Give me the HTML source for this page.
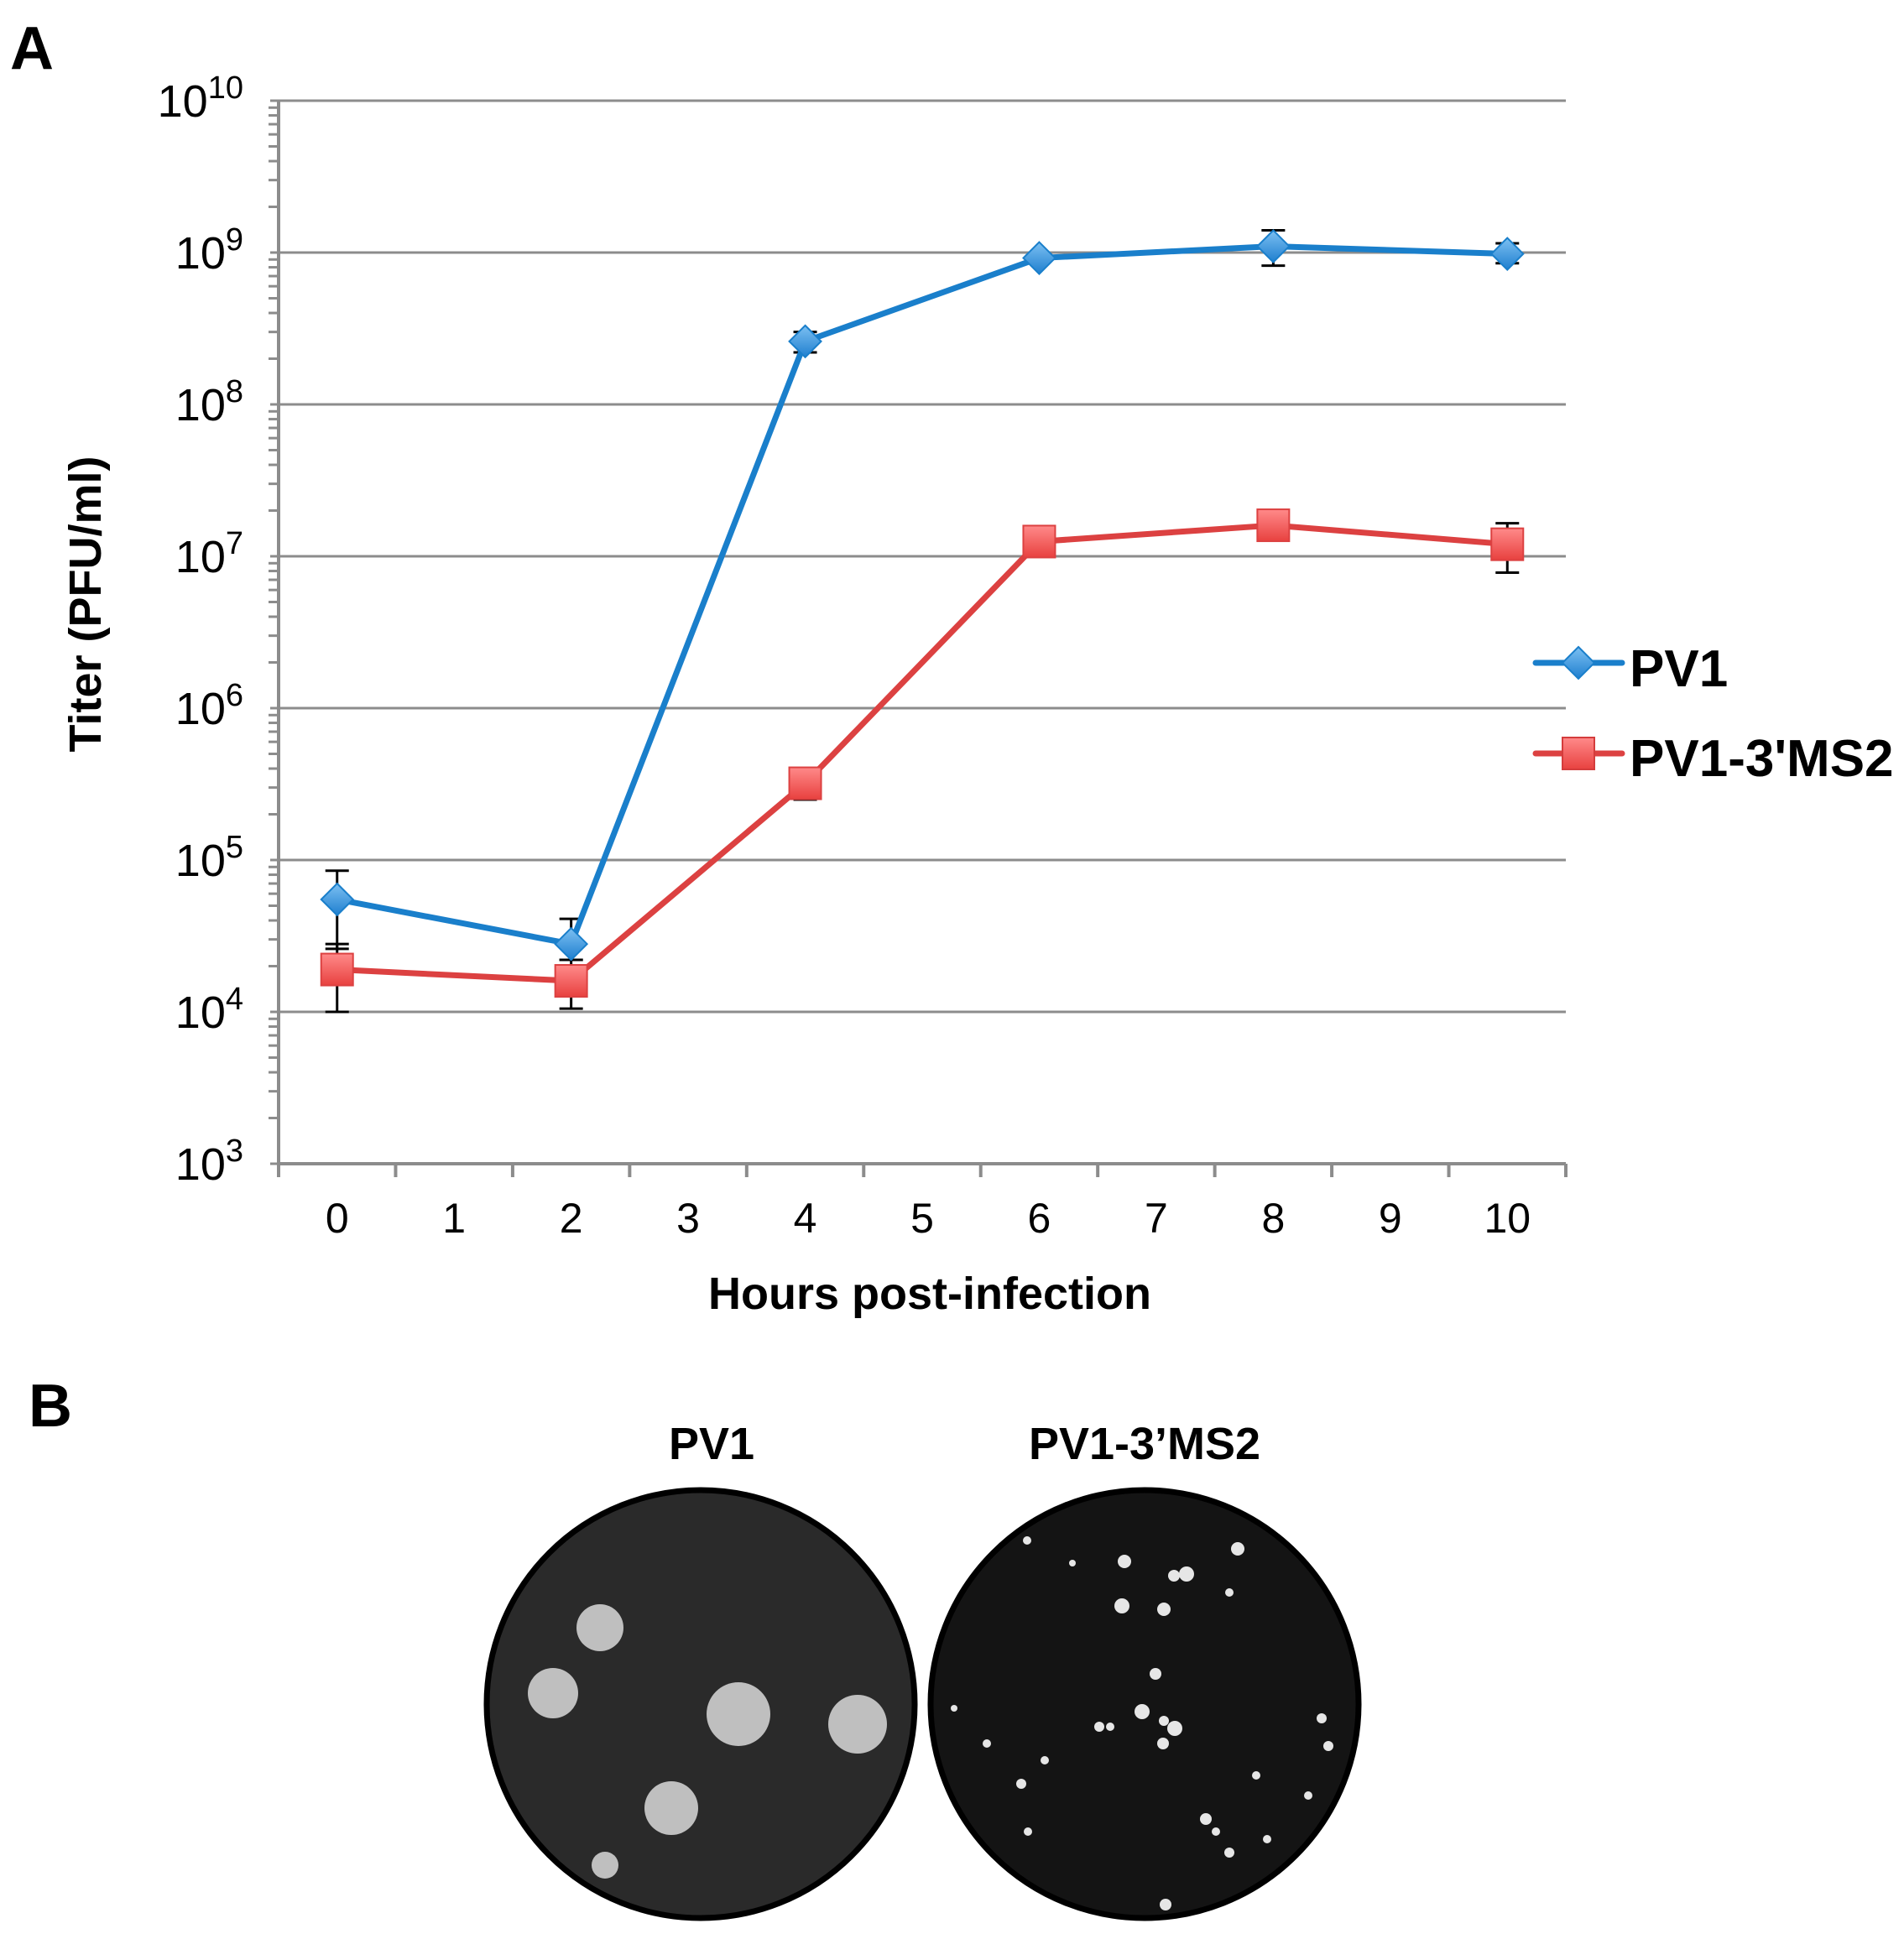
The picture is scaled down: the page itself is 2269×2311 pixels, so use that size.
<!DOCTYPE html>
<html><head><meta charset="utf-8"><style>
html,body{margin:0;padding:0;background:#fff;}
svg{display:block;font-family:"Liberation Sans",sans-serif;}
</style></head><body>
<svg id="fig" width="2269" height="2311" viewBox="0 0 2269 2311" xmlns="http://www.w3.org/2000/svg">
<defs>
<linearGradient id="gb" x1="0" y1="0" x2="0" y2="1"><stop offset="0" stop-color="#7cc0f2"/><stop offset="1" stop-color="#1f7fcf"/></linearGradient>
<linearGradient id="gr" x1="0" y1="0" x2="0" y2="1"><stop offset="0" stop-color="#ff8a8a"/><stop offset="1" stop-color="#e8413f"/></linearGradient>
</defs>
<text x="12" y="82" font-size="72" font-weight="bold">A</text>
<text x="34" y="1700" font-size="72" font-weight="bold">B</text>
<g id="grid"></g>
<g id="axes"></g>
<g id="series"></g>
<text transform="translate(120,720) rotate(-90)" text-anchor="middle" font-size="54" font-weight="bold">Titer (PFU/ml)</text>
<text x="1108" y="1560" text-anchor="middle" font-size="54" font-weight="bold">Hours post-infection</text>
<g>
<g>
<line x1="1830" y1="790" x2="1933" y2="790" stroke="#1a7fcb" stroke-width="7" stroke-linecap="round"/>
<path d="M1881 771 L1900 790 L1881 809 L1862 790 Z" fill="url(#gb)" stroke="#1a7fcb" stroke-width="2"/>
<text x="1942" y="818" font-size="62" font-weight="bold">PV1</text></g>
<g>
<line x1="1830" y1="898" x2="1933" y2="898" stroke="#dc4141" stroke-width="7" stroke-linecap="round"/>
<rect x="1862" y="879" width="38" height="38" fill="url(#gr)" stroke="#d43c3c" stroke-width="2"/>
<text x="1942" y="925" font-size="62" font-weight="bold">PV1-3'MS2</text></g>
</g>
<text x="848" y="1739" text-anchor="middle" font-size="54" font-weight="bold">PV1</text>
<text x="1364" y="1739" text-anchor="middle" font-size="54" font-weight="bold">PV1-3’MS2</text>
<g transform="translate(-3,-12)">
<circle cx="838" cy="2043" r="255" fill="#2a2a2a" stroke="#000" stroke-width="7"/>
<circle cx="1367" cy="2043" r="255" fill="#141414" stroke="#000" stroke-width="7"/>
<g id="plaques"></g>
</g>
</svg>
<script>
const hours=[0,2,4,6,8,10];
const xTicks=[0,1,2,3,4,5,6,7,8,9,10];
const yExps=[3,4,5,6,7,8,9,10];
const pv1=[5.5e4,2.8e4,2.6e8,9.2e8,1.1e9,9.8e8];
const pv1Hi=[8.5e4,4.1e4,3.0e8,9.2e8,1.4e9,1.15e9];
const pv1Lo=[2.6e4,2.2e4,2.2e8,9.2e8,8.2e8,8.5e8];
const ms2=[1.9e4,1.6e4,3.2e5,1.25e7,1.6e7,1.2e7];
const ms2Hi=[2.8e4,2.2e4,3.2e5,1.25e7,1.6e7,1.65e7];
const ms2Lo=[1.0e4,1.05e4,2.5e5,1.25e7,1.6e7,7.8e6];
const NS='http://www.w3.org/2000/svg';
const L=332,R=1866,T=120,B=1387;
const step=(R-L)/11;
const X=h=>L+step*(h+0.5);
const Y=v=>B-(Math.log10(v)-3)*(B-T)/7;
function mk(tag,attrs,parent){const e=document.createElementNS(NS,tag);for(const k in attrs)e.setAttribute(k,attrs[k]);parent.appendChild(e);return e;}
const grid=document.getElementById('grid'),axes=document.getElementById('axes'),ser=document.getElementById('series');
yExps.forEach(p=>{
  const y=Y(Math.pow(10,p));
  if(p>3){const g=mk('line',{x1:L,y1:y,x2:R,y2:y,stroke:'#8c8c8c','stroke-width':3},grid);
  
  }
  const t=mk('text',{x:290,y:y+19,'text-anchor':'end','font-size':54},axes);
  
  
  const a=mk('tspan',{},t);a.textContent='10';
  const s=mk('tspan',{dy:-22,'font-size':38},t);s.textContent=String(p);
  if(p<10){for(let m=2;m<=9;m++){const ym=Y(m*Math.pow(10,p));mk('line',{x1:320,y1:ym,x2:L,y2:ym,stroke:'#8c8c8c','stroke-width':3},axes);}}
  mk('line',{x1:322,y1:y,x2:L,y2:y,stroke:'#8c8c8c','stroke-width':3},axes);
});
mk('line',{x1:L,y1:T,x2:L,y2:B,stroke:'#8c8c8c','stroke-width':4},axes);
mk('line',{x1:L,y1:B,x2:R,y2:B,stroke:'#8c8c8c','stroke-width':4},axes);
for(let i=0;i<=11;i++){const x=L+step*i;mk('line',{x1:x,y1:B,x2:x,y2:B+16,stroke:'#8c8c8c','stroke-width':4},axes);}
xTicks.forEach(h=>{const t=mk('text',{x:X(h),y:B+82,'text-anchor':'middle','font-size':50},axes);t.textContent=String(h);
  
  });
function series(vals,hi,lo,color,grad,shape,name){
  const g=mk('g',{},ser);
  
  
  hours.forEach((h,i)=>{const x=X(h);
    if(hi[i]>vals[i]||lo[i]<vals[i]){
      mk('line',{x1:x,y1:Y(hi[i]),x2:x,y2:Y(lo[i]),stroke:'#000','stroke-width':3},g);
      mk('line',{x1:x-14,y1:Y(hi[i]),x2:x+14,y2:Y(hi[i]),stroke:'#000','stroke-width':3},g);
      mk('line',{x1:x-14,y1:Y(lo[i]),x2:x+14,y2:Y(lo[i]),stroke:'#000','stroke-width':3},g);}
  });
  mk('polyline',{points:hours.map((h,i)=>X(h)+','+Y(vals[i])).join(' '),fill:'none',stroke:color,'stroke-width':7,'stroke-linejoin':'round'},g);
  hours.forEach((h,i)=>{const x=X(h),y=Y(vals[i]);let m;
    if(shape==='d')m=mk('path',{d:`M${x} ${y-19} L${x+19} ${y} L${x} ${y+19} L${x-19} ${y} Z`,fill:grad,stroke:color,'stroke-width':2},g);
    else m=mk('rect',{x:x-19,y:y-19,width:38,height:38,fill:grad,stroke:color,'stroke-width':2},g);
    
    });
}
series(ms2,ms2Hi,ms2Lo,'#dc4141','url(#gr)','s','pv1-3ms2');
series(pv1,pv1Hi,pv1Lo,'#1a7fcb','url(#gb)','d','pv1');
const pl=document.getElementById('plaques');
[[718,1952,28],[662,2030,30],[883,2055,38],[1025,2067,35],[803,2167,32],[724,2235,16]].forEach(c=>mk('circle',{cx:c[0],cy:c[1],r:c[2],fill:'#cfcfcf',opacity:0.9},pl));
[[1343,1873,8],[1417,1888,9],[1402,1890,7],[1478,1858,8],[1340,1926,9],[1390,1930,8],[1380,2007,7],[1364,2052,9],[1403,2072,9],[1390,2063,6],[1389,2090,7],[1227,1848,5],[1313,2070,6],[1326,2070,5],[1578,2060,6],[1586,2093,6],[1140,2048,4],[1179,2090,5],[1248,2110,5],[1220,2138,6],[1440,2180,7],[1500,2128,5],[1468,2220,6],[1452,2195,5],[1562,2152,5],[1228,2195,5],[1392,2282,7],[1513,2204,5],[1281,1875,4],[1468,1910,5]].forEach(c=>mk('circle',{cx:c[0],cy:c[1],r:c[2],fill:'#e6e6e6'},pl));
</script>
</body></html>
